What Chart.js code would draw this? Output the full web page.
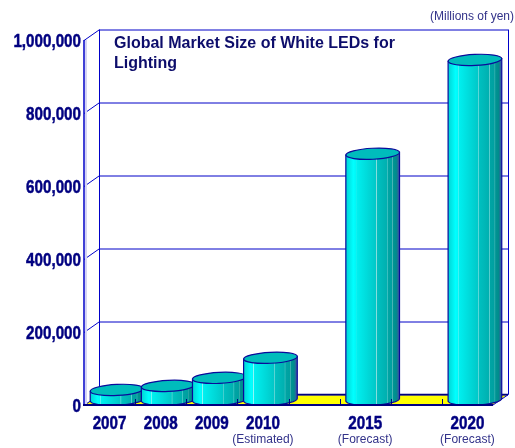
<!DOCTYPE html>
<html lang="en">
<head>
  <meta charset="UTF-8">
  <title>Global Market Size of White LEDs for Lighting</title>
  <script src="https://cdn.jsdelivr.net/npm/chart.js"></script>
  <style>
    html, body { margin: 0; padding: 0; background: #fff; }
    canvas { display: block; }
  </style>
</head>
<body>
  <canvas id="ledChart" width="515" height="448"></canvas>

  <script>
    // blank categories keep the five-year gaps on the axis
    const categories = ["2007", "2008", "2009", "2010", "", "2015", "", "2020"];
    const subLabels = ["", "", "", "(Estimated)", "", "(Forecast)", "", "(Forecast)"];
    const marketSize = [27000, 38000, 60000, 115000, null, 674000, null, 931000];
    const titleLines = ["Global Market Size of White LEDs for", "Lighting"];
    const unitLabel = "(Millions of yen)";

    const DEPTH_X = 15, DEPTH_Y = 10.5;
    const NAVY = "#000080", BLUE = "#0000c8", SOFT = "#33338a";
    const NARROW = 0.8; // no narrow bold font installed, so squeeze the axis labels

    function cylinderSides(ctx, x, rx) {
      const g = ctx.createLinearGradient(x - rx, 0, x + rx, 0);
      const stops = [
        [0, "#00d4d4"], [0.14, "#00ffff"], [0.18, "#00f8f8"], [0.185, "#9ff5f5"], [0.2, "#00f0f0"],
        [0.56, "#00c8c8"], [0.57, "#8fe0e0"], [0.585, "#00c0c0"], [0.76, "#00b0b0"],
        [0.77, "#60d0d0"], [0.785, "#00a4a4"], [0.86, "#00a0a0"], [0.87, "#50b8b8"],
        [0.885, "#009494"], [0.94, "#008c8c"], [1, "#4a4aa8"]
      ];
      stops.forEach(s => g.addColorStop(s[0], s[1]));
      return g;
    }

    function narrowText(ctx, text, px, py, align) {
      ctx.save();
      ctx.translate(px, py);
      ctx.scale(NARROW, 1);
      ctx.textAlign = align;
      ctx.textBaseline = "middle";
      ctx.lineWidth = 0.5;
      ctx.strokeStyle = ctx.fillStyle;
      ctx.strokeText(text, 0, 0);
      ctx.fillText(text, 0, 0);
      ctx.restore();
    }

    // walls, floor and cylinders are projected from the chart's own scales
    const depthPlugin = {
      id: "depthPlugin",
      beforeDatasetsDraw(chart) {
        const { ctx, scales: { x, y }, chartArea: a } = chart;
        ctx.save();

        ctx.fillStyle = "#ffff00";
        ctx.beginPath();
        ctx.moveTo(a.left, a.bottom);
        ctx.lineTo(a.left + DEPTH_X, a.bottom - DEPTH_Y);
        ctx.lineTo(a.right + DEPTH_X, a.bottom - DEPTH_Y);
        ctx.lineTo(a.right, a.bottom);
        ctx.closePath();
        ctx.fill();

        ctx.strokeStyle = BLUE;
        ctx.lineWidth = 1;
        y.ticks.forEach(t => {
          const py = Math.round(y.getPixelForValue(t.value)) + 0.5;
          ctx.beginPath();
          ctx.moveTo(a.left, py);
          ctx.lineTo(a.left + DEPTH_X, py - DEPTH_Y);
          ctx.lineTo(a.right + DEPTH_X, py - DEPTH_Y);
          ctx.stroke();
        });

        ctx.beginPath();
        ctx.moveTo(a.left + DEPTH_X + 0.5, a.top - DEPTH_Y);
        ctx.lineTo(a.left + DEPTH_X + 0.5, a.bottom - DEPTH_Y);
        ctx.moveTo(a.right + DEPTH_X + 0.5, a.top - DEPTH_Y);
        ctx.lineTo(a.right + DEPTH_X + 0.5, a.bottom - DEPTH_Y);
        ctx.lineTo(a.right, a.bottom);
        ctx.stroke();

        // back edge of the floor
        ctx.strokeStyle = NAVY;
        ctx.lineWidth = 1.5;
        ctx.beginPath();
        ctx.moveTo(a.left + DEPTH_X, a.bottom - DEPTH_Y);
        ctx.lineTo(a.right + DEPTH_X, a.bottom - DEPTH_Y);
        ctx.stroke();

        // front edge of the left wall
        ctx.fillStyle = "#d4d4f4";
        ctx.fillRect(a.left + 1, a.top, 2, a.bottom - a.top);
        ctx.strokeStyle = BLUE;
        ctx.beginPath();
        ctx.moveTo(a.left, a.top);
        ctx.lineTo(a.left, a.bottom);
        ctx.stroke();

        ctx.restore();
      },
      afterDatasetsDraw(chart) {
        const { ctx, scales: { x, y }, chartArea: a } = chart;
        const meta = chart.getDatasetMeta(0);
        const ry = 5.5, tilt = -0.05;
        ctx.save();

        meta.data.forEach((bar, i) => {
          if (marketSize[i] == null) return;
          const cx = bar.x + DEPTH_X / 2, rx = bar.width / 2;
          const top = y.getPixelForValue(marketSize[i]) - DEPTH_Y / 2;
          const base = y.getPixelForValue(0) - DEPTH_Y / 2;
          const lift = rx * Math.sin(tilt);

          ctx.beginPath();
          ctx.moveTo(cx - rx, top - lift);
          ctx.lineTo(cx - rx, base - lift);
          ctx.ellipse(cx, base, rx, ry, tilt, Math.PI, 0, true);
          ctx.lineTo(cx + rx, top + lift);
          ctx.closePath();
          ctx.fillStyle = cylinderSides(ctx, cx, rx);
          ctx.fill();
          ctx.strokeStyle = "#0a0a9a";
          ctx.lineWidth = 1.2;
          ctx.stroke();

          ctx.beginPath();
          ctx.ellipse(cx, top, rx, ry, tilt, 0, Math.PI * 2);
          ctx.fillStyle = "#00bcbc";
          ctx.fill();
          ctx.stroke();
        });

        // small dividers on the floor, between categories
        ctx.strokeStyle = NAVY;
        ctx.lineWidth = 1;
        const slot = x.getPixelForTick(1) - x.getPixelForTick(0);
        categories.forEach((c, i) => {
          if (i === 0) return;
          const px = Math.round(x.getPixelForTick(i) - slot / 2) + 0.5;
          ctx.beginPath();
          ctx.moveTo(px, a.bottom - 6);
          ctx.lineTo(px, a.bottom);
          ctx.stroke();
        });

        ctx.strokeStyle = NAVY;
        ctx.lineWidth = 2;
        ctx.beginPath();
        ctx.moveTo(a.left - 1, a.bottom);
        ctx.lineTo(a.right, a.bottom);
        ctx.stroke();

        // axis labels
        ctx.fillStyle = NAVY;
        ctx.font = "bold 19px 'Liberation Sans', Arial, sans-serif";
        y.ticks.forEach(t => narrowText(ctx, t.label, 81, y.getPixelForValue(t.value) + 1.5, "right"));
        categories.forEach((c, i) => {
          if (c) narrowText(ctx, c, x.getPixelForTick(i), 424, "center");
        });

        ctx.textBaseline = "middle";
        ctx.fillStyle = "#0d0d6b";
        ctx.font = "bold 16px 'Liberation Sans', Arial, sans-serif";
        ctx.textAlign = "left";
        titleLines.forEach((line, i) => ctx.fillText(line, 114, 44 + i * 20));

        ctx.fillStyle = SOFT;
        ctx.font = "12px 'Liberation Sans', Arial, sans-serif";
        ctx.textAlign = "right";
        ctx.fillText(unitLabel, 514, 17);
        ctx.textAlign = "center";
        subLabels.forEach((s, i) => {
          if (s) ctx.fillText(s, x.getPixelForTick(i), 440);
        });

        ctx.restore();
      }
    };

    new Chart(document.getElementById("ledChart").getContext("2d"), {
      type: "bar",
      data: {
        labels: categories,
        datasets: [{
          data: marketSize,
          backgroundColor: "rgba(0,0,0,0)",
          barPercentage: 1,
          categoryPercentage: 1.05
        }]
      },
      options: {
        responsive: false,
        animation: false,
        layout: { padding: { top: 40, right: 22, left: 0, bottom: 0 } },
        plugins: { legend: { display: false }, tooltip: { enabled: false } },
        scales: {
          x: {
            grid: { display: false },
            border: { display: false },
            afterFit(scale) { scale.height = 43; },
            ticks: { display: false, autoSkip: false, maxRotation: 0 }
          },
          y: {
            min: 0,
            max: 1000000,
            grid: { display: false },
            border: { display: false },
            afterFit(scale) { scale.width = 84; },
            ticks: {
              display: false,
              stepSize: 200000,
              callback: v => v.toLocaleString("en-US")
            }
          }
        }
      },
      plugins: [depthPlugin]
    });
  </script>
</body>
</html>
